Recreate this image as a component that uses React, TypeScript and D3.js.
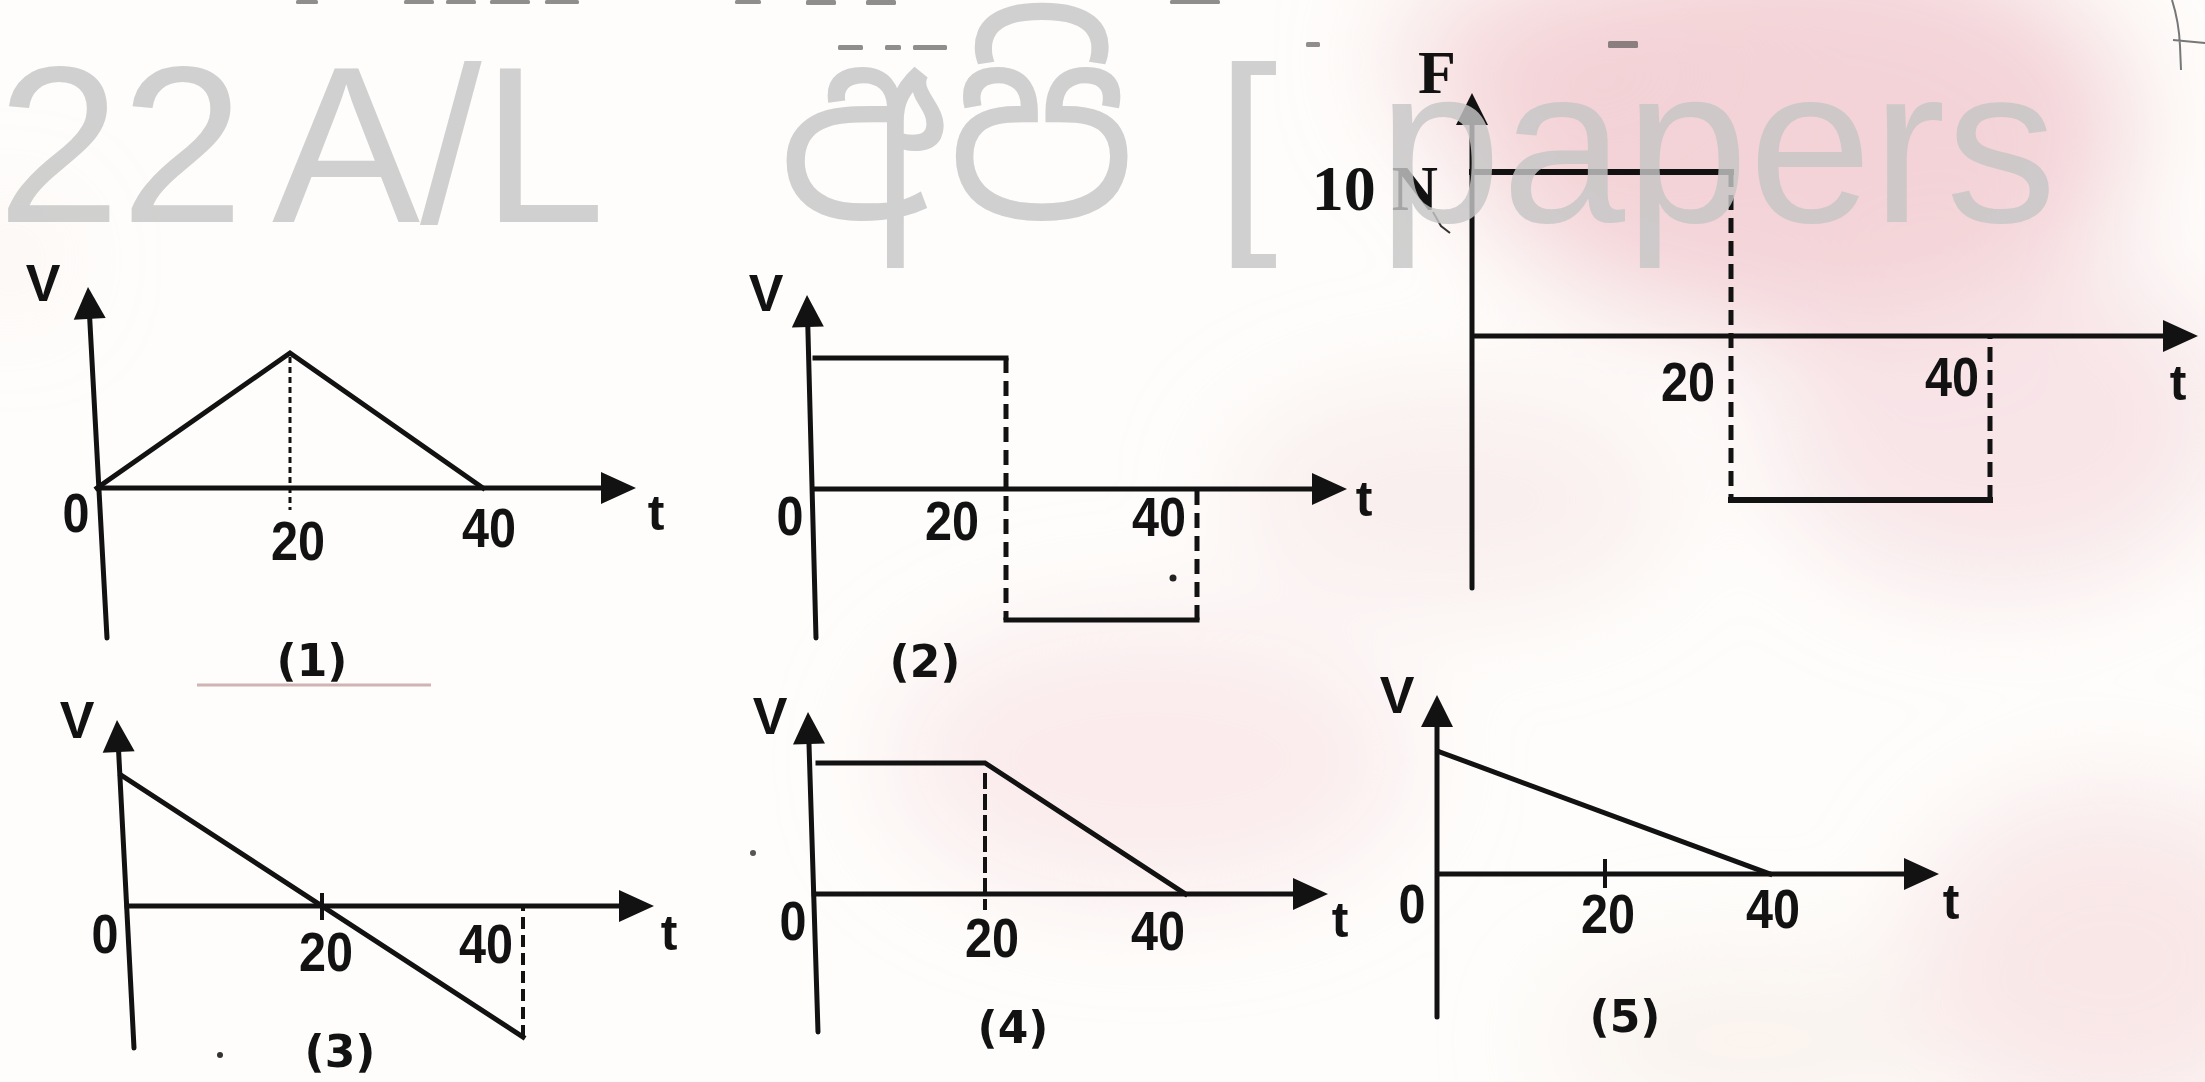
import React from "react";
import * as d3 from "d3";

// ---------- values ----------
const tickValues = [0, 20, 40];
const tickLabels = ["0", "20", "40"];
const forceUnit = "N";

// applied force F (N) against time t (s)
const forceTime = [0, 20, 20, 40, 40];
const forceValue = [10, 10, -10, -10, 0];

// candidate velocity–time graphs (relative velocity)
const v1Time = [0, 20, 40];
const v1Value = [0, 1, 0];
const v2Time = [0, 20, 20, 40, 40];
const v2Value = [1, 1, -1, -1, 0];
const v3Time = [0, 40, 40];
const v3Value = [1, -1, 0];
const v4Time = [0, 20, 44];
const v4Value = [1, 1, 0];
const v5Time = [0, 40];
const v5Value = [1, 0];

const optionLabels = ["(1)", "(2)", "(3)", "(4)", "(5)"];
const watermarkParts = ["22", "A/L", "අපි", "[", "papers"];

// ---------- styling ----------
const INK = "#121212";
const labelFont = "'Liberation Sans Narrow', 'Liberation Sans', Arial, sans-serif";
const serifFont = "'Liberation Serif', 'DejaVu Serif', serif";
const captionFont = "'DejaVu Sans', sans-serif";
const markFont = "'Liberation Sans', Arial, sans-serif";
const sinhalaFont = "'Noto Sans Sinhala', 'Noto Serif Sinhala', 'Iskoola Pota', sans-serif";

type Pt = [number, number];

interface PanelLayout {
  time: number[];
  value: number[];
  yDomain: [number, number];
  xPx: [number, number];
  yPx: [number, number];
  yTop: Pt;
  yBottom: Pt;
  xEnd: number;
  yName: string;
  yNamePos: Pt;
  yNameSerif?: boolean;
  tPos: Pt;
  ticks: number[]; // indexes into tickValues that get a label
  labelOffsets: Pt[]; // [dx, dy] from (x(t), y(0)) per labelled tick
  caption?: string;
  captionPos?: Pt;
  lineWidth: number;
  stepDash: string;
  stepWidth: number;
  guide?: { t: number; gap: number; over: number; width: number; dash: string };
  mark?: { t: number; up: number; down: number };
}

const panels: PanelLayout[] = [
  {
    time: forceTime, value: forceValue, yDomain: [-10, 10],
    xPx: [1472, 1990], yPx: [500, 172],
    yTop: [1472, 93], yBottom: [1472, 588], xEnd: 2198,
    yName: "F", yNamePos: [1437, 72], yNameSerif: true, tPos: [2178, 383],
    ticks: [1, 2], labelOffsets: [[-43, 45], [-38, 40]],
    lineWidth: 6, stepDash: "15 8", stepWidth: 5,
  },
  {
    time: v1Time, value: v1Value, yDomain: [0, 1],
    xPx: [97, 483], yPx: [488, 353],
    yTop: [88, 287], yBottom: [107, 638], xEnd: 636,
    yName: "V", yNamePos: [43, 283], tPos: [656, 513],
    ticks: [0, 1, 2], labelOffsets: [[-21, 24], [8, 52], [6, 39]],
    caption: optionLabels[0], captionPos: [312, 660],
    lineWidth: 5, stepDash: "12 6", stepWidth: 4,
    guide: { t: 20, gap: 4, over: 22, width: 3, dash: "6 4" },
  },
  {
    time: v2Time, value: v2Value, yDomain: [-1, 1],
    xPx: [815, 1197], yPx: [620, 358],
    yTop: [807, 295], yBottom: [816, 638], xEnd: 1347,
    yName: "V", yNamePos: [766, 293], tPos: [1364, 499],
    ticks: [0, 1, 2], labelOffsets: [[-25, 26], [-54, 31], [-38, 27]],
    caption: optionLabels[1], captionPos: [925, 661],
    lineWidth: 5, stepDash: "15 8", stepWidth: 5,
  },
  {
    time: v3Time, value: v3Value, yDomain: [-1, 1],
    xPx: [121, 523], yPx: [1037, 775],
    yTop: [117, 720], yBottom: [134, 1048], xEnd: 654,
    yName: "V", yNamePos: [77, 720], tPos: [669, 933],
    ticks: [0, 1, 2], labelOffsets: [[-16, 27], [4, 45], [-37, 37]],
    caption: optionLabels[2], captionPos: [340, 1051],
    lineWidth: 5, stepDash: "12 6", stepWidth: 4,
    mark: { t: 20, up: 13, down: 14 },
  },
  {
    time: v4Time, value: v4Value, yDomain: [0, 1],
    xPx: [818, 1152], yPx: [894, 763],
    yTop: [808, 712], yBottom: [818, 1032], xEnd: 1328,
    yName: "V", yNamePos: [770, 716], tPos: [1340, 920],
    ticks: [0, 1, 2], labelOffsets: [[-25, 26], [7, 43], [6, 36]],
    caption: optionLabels[3], captionPos: [1013, 1027],
    lineWidth: 5, stepDash: "12 6", stepWidth: 4,
    guide: { t: 20, gap: 10, over: 16, width: 4, dash: "16 5" },
  },
  {
    time: v5Time, value: v5Value, yDomain: [0, 1],
    xPx: [1440, 1770], yPx: [874, 752],
    yTop: [1437, 695], yBottom: [1437, 1017], xEnd: 1939,
    yName: "V", yNamePos: [1397, 695], tPos: [1951, 902],
    ticks: [0, 1, 2], labelOffsets: [[-28, 29], [3, 39], [3, 34]],
    caption: optionLabels[4], captionPos: [1625, 1016],
    lineWidth: 5, stepDash: "12 6", stepWidth: 4,
    mark: { t: 20, up: 15, down: 14 },
  },
];

// soft pink tint patches of the paper
const tintPatches = [
  { cx: 1800, cy: 130, rx: 330, ry: 200, fill: "#efc4cb", op: 0.75 },
  { cx: 1560, cy: 60, rx: 170, ry: 100, fill: "#f3d1d6", op: 0.7 },
  { cx: 2000, cy: 420, rx: 230, ry: 170, fill: "#f4d6da", op: 0.6 },
  { cx: 1450, cy: 500, rx: 220, ry: 110, fill: "#f6e0e2", op: 0.5 },
  { cx: 1150, cy: 760, rx: 260, ry: 140, fill: "#f8e0e3", op: 0.6 },
  { cx: 2110, cy: 960, rx: 200, ry: 170, fill: "#f5d9dc", op: 0.6 },
  { cx: 1750, cy: 1040, rx: 200, ry: 80, fill: "#f7ebe4", op: 0.6 },
  { cx: 10, cy: 260, rx: 40, ry: 40, fill: "#f6dcdc", op: 0.5 },
];

// stray print fragments along the top edge
const topFragments = [
  { x: 296, y: 0, w: 22, h: 4 }, { x: 404, y: 0, w: 30, h: 4 },
  { x: 446, y: 0, w: 30, h: 4 }, { x: 490, y: 0, w: 40, h: 4 },
  { x: 545, y: 0, w: 34, h: 4 }, { x: 735, y: 0, w: 26, h: 4 },
  { x: 806, y: 0, w: 30, h: 5 }, { x: 866, y: 0, w: 30, h: 5 },
  { x: 1170, y: 0, w: 50, h: 4 },
  { x: 838, y: 45, w: 25, h: 5 }, { x: 885, y: 45, w: 16, h: 5 },
  { x: 913, y: 45, w: 34, h: 5 }, { x: 1306, y: 42, w: 14, h: 5 },
  { x: 1608, y: 41, w: 30, h: 7 },
];

function arrowHead(tip: Pt, from: Pt, len: number, half: number): string {
  const dx = tip[0] - from[0];
  const dy = tip[1] - from[1];
  const L = Math.hypot(dx, dy);
  const ux = dx / L, uy = dy / L;
  const bx = tip[0] - ux * len, by = tip[1] - uy * len;
  const px = -uy, py = ux;
  return [
    [tip[0], tip[1]],
    [bx + px * half, by + py * half],
    [bx - px * half, by - py * half],
  ].map((p) => p.join(",")).join(" ");
}

function segmentsOf(time: number[], value: number[]) {
  const segs: { dashed: boolean; pts: Pt[] }[] = [];
  for (let i = 1; i < time.length; i++) {
    const dashed = time[i] === time[i - 1];
    const last = segs[segs.length - 1];
    if (last && !last.dashed && !dashed) last.pts.push([time[i], value[i]]);
    else segs.push({ dashed, pts: [[time[i - 1], value[i - 1]], [time[i], value[i]]] });
  }
  return segs;
}

function Graph({ p, withValue }: { p: PanelLayout; withValue?: boolean }) {
  const x = d3.scaleLinear().domain([0, 40]).range(p.xPx);
  const y = d3.scaleLinear().domain(p.yDomain).range(p.yPx);
  const y0 = y(0);
  const line = d3.line<Pt>().x((d) => x(d[0])).y((d) => y(d[1]));

  // where the (slightly leaning) vertical axis meets the time axis
  const f = (y0 - p.yTop[1]) / (p.yBottom[1] - p.yTop[1]);
  const ax = p.yTop[0] + f * (p.yBottom[0] - p.yTop[0]);

  const arrowLen = 32;
  const uLen = Math.hypot(p.yTop[0] - p.yBottom[0], p.yTop[1] - p.yBottom[1]);
  const shaftTop: Pt = [
    p.yTop[0] + ((p.yBottom[0] - p.yTop[0]) / uLen) * arrowLen * 0.6,
    p.yTop[1] + ((p.yBottom[1] - p.yTop[1]) / uLen) * arrowLen * 0.6,
  ];

  const segs = segmentsOf(p.time, p.value);

  return (
    <g>
      {/* vertical axis */}
      <line x1={p.yBottom[0]} y1={p.yBottom[1]} x2={shaftTop[0]} y2={shaftTop[1]}
        stroke={INK} strokeWidth={5} strokeLinecap="round" />
      <polygon points={arrowHead(p.yTop, p.yBottom, arrowLen, 16)} fill={INK} />
      {/* time axis */}
      <line x1={ax - 2} y1={y0} x2={p.xEnd - arrowLen * 0.6} y2={y0}
        stroke={INK} strokeWidth={5} />
      <polygon points={arrowHead([p.xEnd, y0], [ax, y0], 35, 16)} fill={INK} />

      {/* drop line */}
      {p.guide && (
        <line x1={x(p.guide.t)} x2={x(p.guide.t)}
          y1={y(p.value[p.time.indexOf(p.guide.t)]) + p.guide.gap}
          y2={y0 + p.guide.over}
          stroke={INK} strokeWidth={p.guide.width} strokeDasharray={p.guide.dash} />
      )}
      {/* tick mark */}
      {p.mark && (
        <line x1={x(p.mark.t)} x2={x(p.mark.t)} y1={y0 - p.mark.up} y2={y0 + p.mark.down}
          stroke={INK} strokeWidth={4} />
      )}

      {/* series */}
      {segs.map((s, i) => (
        <path key={i} d={line(s.pts) || ""} fill="none" stroke={INK}
          strokeWidth={s.dashed ? p.stepWidth : p.lineWidth}
          strokeDasharray={s.dashed ? p.stepDash : undefined}
          strokeLinejoin="miter" strokeLinecap={s.dashed ? "butt" : "square"} />
      ))}

      {/* tick labels */}
      {p.ticks.map((ti, k) => (
        <text key={ti} x={x(tickValues[ti]) + p.labelOffsets[k][0]} y={y0 + p.labelOffsets[k][1]}
          fontFamily={labelFont} fontWeight="bold" fontSize={56} fill={INK}
          textAnchor="middle" dominantBaseline="central"
          textLength={tickLabels[ti].length * 27} lengthAdjust="spacingAndGlyphs">
          {tickLabels[ti]}
        </text>
      ))}

      {/* axis names */}
      <text x={p.yNamePos[0]} y={p.yNamePos[1]}
        fontFamily={p.yNameSerif ? serifFont : markFont} fontWeight="bold"
        fontSize={p.yNameSerif ? 62 : 52} fill={INK} textAnchor="middle" dominantBaseline="central">
        {p.yName}
      </text>
      <text x={p.tPos[0]} y={p.tPos[1]} fontFamily={markFont} fontWeight="bold" fontSize={50}
        fill={INK} textAnchor="middle" dominantBaseline="central">t</text>

      {withValue && (
        <text x={ax - 34} y={y(d3.max(p.value) as number) + 16}
          fontFamily={serifFont} fontWeight="bold" fontSize={64} fill={INK}
          textAnchor="end" dominantBaseline="central">
          {`${d3.max(p.value)} ${forceUnit}`}
        </text>
      )}

      {p.caption && p.captionPos && (
        <text x={p.captionPos[0]} y={p.captionPos[1]} fontFamily={captionFont} fontWeight="bold"
          fontSize={44} fill={INK} textAnchor="middle" dominantBaseline="central">
          {p.caption}
        </text>
      )}
    </g>
  );
}

export default function App() {
  const wm = { y: 222, size: 222 };
  return (
    <svg width={2205} height={1082} viewBox="0 0 2205 1082"
      style={{ position: "fixed", left: 0, top: 0, display: "block" }}>
      <defs>
        <filter id="soft" x="-60%" y="-60%" width="220%" height="220%">
          <feGaussianBlur stdDeviation="55" />
        </filter>
      </defs>
      <rect width={2205} height={1082} fill="#fefdfb" />
      <g filter="url(#soft)">
        {tintPatches.map((t, i) => (
          <ellipse key={i} cx={t.cx} cy={t.cy} rx={t.rx} ry={t.ry} fill={t.fill} opacity={t.op} />
        ))}
      </g>

      {topFragments.map((r, i) => (
        <rect key={i} x={r.x} y={r.y} width={r.w} height={r.h} fill="#444" opacity={0.6} rx={1.5} />
      ))}
      <path d="M2172,0 Q2179,22 2180,46 L2181,70 M2173,40 L2205,43" fill="none" stroke="#777" strokeWidth={2} />
      <path d="M1433,212 L1441,226 L1450,233" fill="none" stroke="#333" strokeWidth={2} />

      <line x1={197} y1={685} x2={431} y2={685} stroke="#a87878" strokeOpacity={0.55} strokeWidth={3} />
      <circle cx={1173} cy={578} r={3.5} fill="#222" />
      <circle cx={220} cy={1055} r={3} fill="#333" />
      <circle cx={753} cy={853} r={3} fill="#555" />

      {panels.map((p, i) => (
        <Graph key={i} p={p} withValue={i === 0} />
      ))}

      {/* watermark */}
      <g fill="#c6c6c6" opacity={0.82} fontFamily={markFont} fontSize={wm.size}>
        <text x={-3} y={wm.y}>{watermarkParts[0]}</text>
        <text x={272} y={wm.y}>{watermarkParts[1]}</text>
        <text x={778} y={wm.y - 4} fontFamily={sinhalaFont} fontSize={246}
          textLength={358} lengthAdjust="spacingAndGlyphs">{watermarkParts[2]}</text>
        <text x={1216} y={wm.y}>{watermarkParts[3]}</text>
        <text x={1378} y={wm.y}>{watermarkParts[4]}</text>
      </g>
    </svg>
  );
}
